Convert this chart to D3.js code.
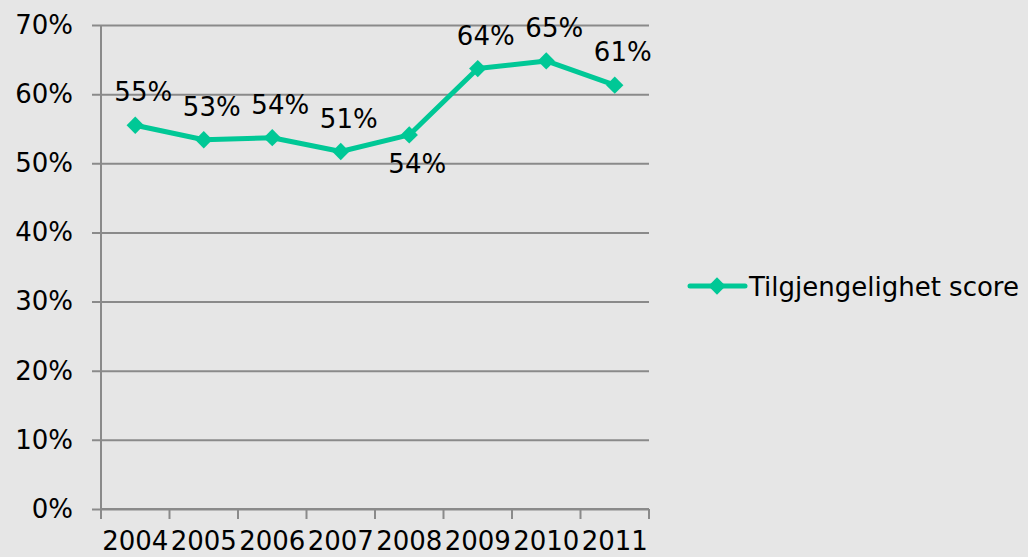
<!DOCTYPE html>
<html>
<head>
<meta charset="utf-8">
<script src="https://cdn.jsdelivr.net/npm/d3@7"></script>
<style>
  body { margin: 0; background: #e6e6e6; }
  svg { display: block; font-family: "DejaVu Sans", Verdana, sans-serif; }
</style>
</head>
<body>
<svg id="chart" width="1028" height="557"></svg>
<script>

// === Data === //

var years = ['2004', '2005', '2006', '2007', '2008', '2009', '2010', '2011'];
var scores = [0.555, 0.534, 0.537, 0.517, 0.541, 0.637, 0.648, 0.613];
var scoreLabels = ['55%', '53%', '54%', '51%', '54%', '64%', '65%', '61%'];
var labelSide = ['above', 'above', 'above', 'above', 'below', 'above', 'above', 'above'];
var yTicks = [0, 0.1, 0.2, 0.3, 0.4, 0.5, 0.6, 0.7];
var seriesName = 'Tilgjengelighet score';

// === Setup === //

var width = 1028, height = 557;
var plot = { left: 101, right: 649, top: 25, bottom: 509 };
var lineColour = '#00c896';
var gridColour = '#8a8a8a';
var fontSize = 26;

var svg = d3.select('#chart');

svg.append('rect')
	.attr('width', width).attr('height', height)
	.attr('fill', '#e6e6e6');

var x = d3.scaleBand()
	.domain(years)
	.range([plot.left, plot.right]);

var y = d3.scaleLinear()
	.domain([0, 0.7])
	.range([plot.bottom, plot.top]);

// === Axes === //

var yAxis = svg.append('g')
	.attr('transform', 'translate(' + plot.left + ',0)')
	.call(d3.axisLeft(y)
		.tickValues(yTicks)
		.tickFormat(d3.format('.0%'))
		.tickSize(-(plot.right - plot.left))
		.tickPadding(28));

yAxis.select('.domain').remove();
yAxis.selectAll('.tick line')
	.attr('x1', -9)
	.attr('stroke', gridColour)
	.attr('stroke-width', 2);
yAxis.selectAll('.tick text')
	.attr('font-size', fontSize)
	.attr('font-family', '"DejaVu Sans", Verdana, sans-serif')
	.attr('fill', '#000');

// vertical axis line
svg.append('line')
	.attr('x1', plot.left).attr('x2', plot.left)
	.attr('y1', plot.top).attr('y2', plot.bottom)
	.attr('stroke', gridColour).attr('stroke-width', 2);

// bottom axis with ticks at band edges
var xAxis = svg.append('g')
	.attr('transform', 'translate(0,' + plot.bottom + ')');

xAxis.append('line')
	.attr('x1', plot.left).attr('x2', plot.right)
	.attr('stroke', gridColour).attr('stroke-width', 2);

xAxis.selectAll('line.edge')
	.data(years.concat(['end']))
	.enter()
	.append('line')
	.classed('edge', true)
	.attr('x1', function(d, i) { return plot.left + i * x.step(); })
	.attr('x2', function(d, i) { return plot.left + i * x.step(); })
	.attr('y1', 0).attr('y2', 10)
	.attr('stroke', gridColour).attr('stroke-width', 2);

xAxis.selectAll('text')
	.data(years)
	.enter()
	.append('text')
	.attr('x', function(d) { return x(d) + x.bandwidth() / 2; })
	.attr('y', 41)
	.attr('text-anchor', 'middle')
	.attr('font-size', fontSize)
	.text(function(d) { return d; });

// === Series === //

var points = years.map(function(d, i) {
	return { year: d, value: scores[i], label: scoreLabels[i], side: labelSide[i] };
});

var line = d3.line()
	.x(function(d) { return x(d.year) + x.bandwidth() / 2; })
	.y(function(d) { return y(d.value); });

svg.append('path')
	.datum(points)
	.attr('d', line)
	.attr('fill', 'none')
	.attr('stroke', lineColour)
	.attr('stroke-width', 5)
	.attr('stroke-linejoin', 'round');

var diamond = d3.symbol().type(d3.symbolSquare).size(150);

svg.selectAll('path.marker')
	.data(points)
	.enter()
	.append('path')
	.classed('marker', true)
	.attr('d', diamond)
	.attr('transform', function(d) {
		return 'translate(' + (x(d.year) + x.bandwidth() / 2) + ',' + y(d.value) + ') rotate(45)';
	})
	.attr('fill', lineColour);

svg.selectAll('text.value')
	.data(points)
	.enter()
	.append('text')
	.classed('value', true)
	.attr('x', function(d) { return x(d.year) + x.bandwidth() / 2 + 8; })
	.attr('y', function(d) { return y(d.value) + (d.side === 'above' ? -24 : 38); })
	.attr('text-anchor', 'middle')
	.attr('font-size', fontSize)
	.text(function(d) { return d.label; });

// === Legend === //

var legend = svg.append('g').attr('transform', 'translate(690,286)');

legend.append('line')
	.attr('x1', 0).attr('x2', 55)
	.attr('stroke', lineColour)
	.attr('stroke-width', 5)
	.attr('stroke-linecap', 'round');

legend.append('path')
	.attr('d', diamond)
	.attr('transform', 'translate(27,0) rotate(45)')
	.attr('fill', lineColour);

legend.append('text')
	.attr('x', 59)
	.attr('y', 10)
	.attr('font-size', fontSize)
	.text(seriesName);

</script>
</body>
</html>
